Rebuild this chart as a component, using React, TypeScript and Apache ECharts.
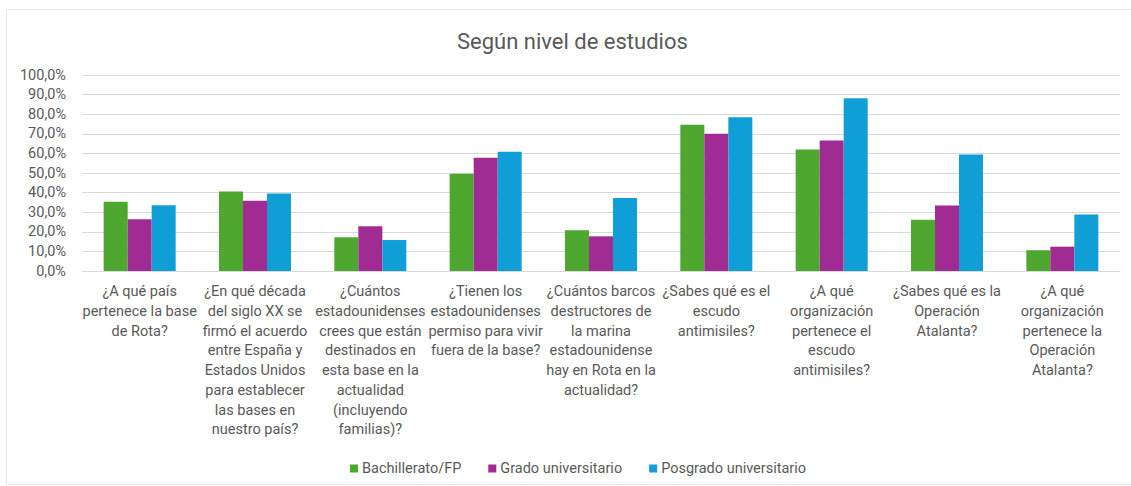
import React, { useEffect, useRef } from "react";
import * as echarts from "echarts";

const categories = [
  "¿A qué país\npertenece la base\nde Rota?",
  "¿En qué década\ndel siglo XX se\nfirmó el acuerdo\nentre España y\nEstados Unidos\npara establecer\nlas bases en\nnuestro país?",
  "¿Cuántos\nestadounidenses\ncrees que están\ndestinados en\nesta base en la\nactualidad\n(incluyendo\nfamilias)?",
  "¿Tienen los\nestadounidenses\npermiso para vivir\nfuera de la base?",
  "¿Cuántos barcos\ndestructores de\nla marina\nestadounidense\nhay en Rota en la\nactualidad?",
  "¿Sabes qué es el\nescudo\nantimisiles?",
  "¿A qué\norganización\npertenece el\nescudo\nantimisiles?",
  "¿Sabes qué es la\nOperación\nAtalanta?",
  "¿A qué\norganización\npertenece la\nOperación\nAtalanta?",
];

const seriesNames = ["Bachillerato/FP", "Grado universitario", "Posgrado universitario"];
const bachillerato = [35.3, 40.5, 17.2, 49.6, 20.8, 74.6, 62.0, 26.2, 10.6];
const grado = [26.4, 35.9, 22.8, 57.8, 17.7, 70.0, 66.6, 33.4, 12.4];
const posgrado = [33.6, 39.5, 15.8, 60.8, 37.3, 78.4, 88.1, 59.5, 28.8];
const colors = ["#4EA72E", "#A02B93", "#0F9ED5"];

const FONT = "Roboto, 'Noto Sans', sans-serif";
const TEXT = "#595959";

export default function App() {
  const ref = useRef<HTMLDivElement>(null);
  useEffect(() => {
    if (!ref.current) return;
    const chart = echarts.init(ref.current, null, { renderer: "svg" });
    const data = [bachillerato, grado, posgrado];
    chart.setOption({
      animation: false,
      backgroundColor: "#ffffff",
      textStyle: { fontFamily: FONT },
      title: {
        text: "Según nivel de estudios",
        left: 452,
        top: 25,
        textStyle: { fontSize: 22, fontWeight: "normal", color: TEXT, fontFamily: FONT },
      },
      graphic: [
        {
          type: "rect",
          shape: { x: 6.5, y: 9.5, width: 1130, height: 475 },
          style: { fill: "none", stroke: "#e6e6e6", lineWidth: 1 },
          silent: true,
          z: -1,
        },
      ],
      legend: {
        data: seriesNames,
        left: 345,
        top: 456,
        itemWidth: 8,
        itemHeight: 8,
        itemGap: 27,
        icon: "rect",
        textStyle: { fontSize: 14.5, color: TEXT, fontFamily: FONT, padding: [0, 0, 0, -1] },
      },
      grid: { left: 82, right: 11, top: 75, bottom: 215, containLabel: false },
      xAxis: {
        type: "category",
        data: categories,
        axisLine: { show: true, lineStyle: { color: "#D9D9D9", width: 1 } },
        axisTick: { show: false },
        axisLabel: {
          interval: 0,
          margin: 11,
          fontSize: 14.5,
          color: TEXT,
          lineHeight: 19.7,
          align: "center",
          verticalAlign: "top",
          fontFamily: FONT,
        },
      },
      yAxis: {
        type: "value",
        min: 0,
        max: 100,
        interval: 10,
        axisLine: { show: false },
        axisTick: { show: false },
        splitLine: { lineStyle: { color: "#D9D9D9", width: 1 } },
        axisLabel: {
          fontSize: 14.5,
          color: TEXT,
          margin: 16,
          fontFamily: FONT,
          formatter: (v: number) => v.toFixed(1).replace(".", ",") + "%",
        },
      },
      series: seriesNames.map((name, i) => ({
        name,
        type: "bar",
        data: data[i],
        barWidth: 24,
        barGap: "0%",
        itemStyle: { color: colors[i] },
      })),
    });
    return () => chart.dispose();
  }, []);
  return (
    <div
      ref={ref}
      style={{ position: "absolute", left: 0, top: 0, width: 1131, height: 486 }}
    />
  );
}
